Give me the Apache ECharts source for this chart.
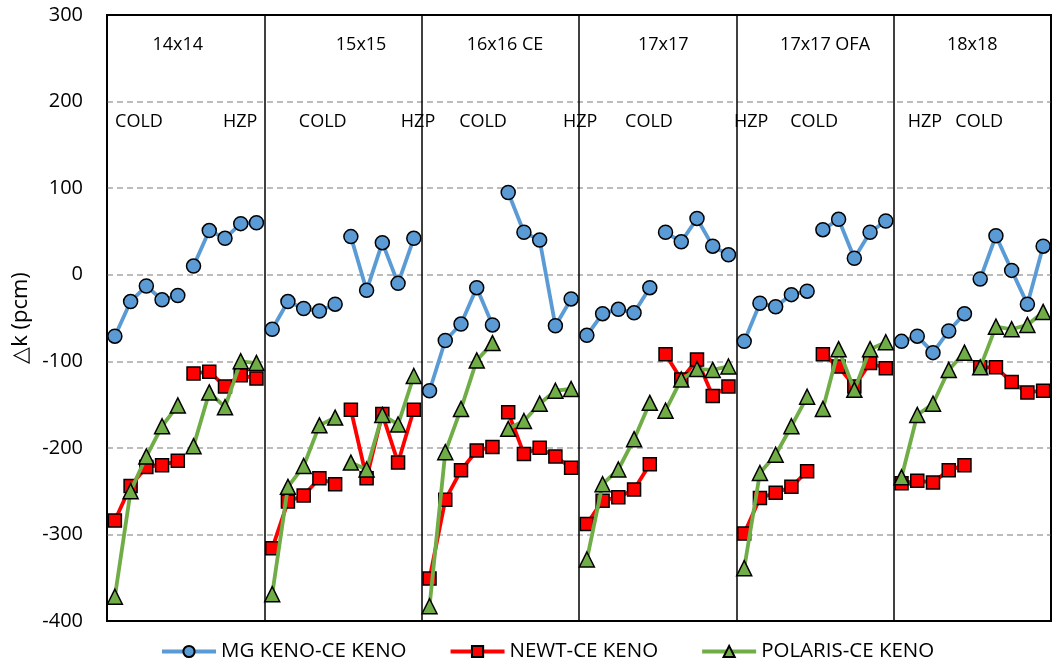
<!DOCTYPE html>
<html>
<head>
<meta charset="utf-8">
<script src="https://cdn.jsdelivr.net/npm/echarts@6/dist/echarts.min.js"></script>
<style>
html,body{margin:0;padding:0;background:#fff;}
#chart{width:1061px;height:662px;}
</style>
</head>
<body>
<div id="chart"></div>
<script>
// Panels (assemblies), each with 5 COLD points then 5 HZP points
const panels = ['14x14', '15x15', '16x16 CE', '17x17', '17x17 OFA', '18x18'];
const seriesNames = ['MG KENO-CE KENO', 'NEWT-CE KENO', 'POLARIS-CE KENO'];

const mgKeno = [
  -71, -31, -13, -29, -24,   10, 51, 42, 59, 60,
  -63, -31, -39, -42, -34,   44, -18, 37, -10, 42,
  -134, -76, -57, -15, -58,  95, 49, 40, -59, -28,
  -70, -45, -40, -44, -15,   49, 38, 65, 33, 23,
  -77, -33, -37, -23, -19,   52, 64, 19, 49, 62,
  -77, -71, -90, -65, -45,   -5, 45, 5, -34, 33
];
const newt = [
  -284, -244, -222, -220, -215,  -114, -112, -129, -116, -120,
  -316, -262, -255, -235, -242,  -156, -235, -161, -217, -156,
  -351, -260, -226, -203, -199,  -159, -207, -200, -210, -223,
  -288, -261, -257, -248, -219,  -92, -121, -98, -140, -129,
  -299, -258, -252, -245, -227,  -92, -106, -129, -102, -108,
  -241, -238, -240, -226, -220,  -107, -107, -124, -136, -134
];
const polaris = [
  -372, -250, -210, -175, -151,  -198, -136, -153, -100, -102,
  -369, -245, -221, -174, -165,  -217, -225, -162, -173, -117,
  -383, -205, -155, -99, -79,    -178, -169, -149, -134, -132,
  -329, -242, -225, -190, -148,  -157, -121, -109, -110, -106,
  -339, -229, -208, -175, -141,  -155, -86, -133, -86, -78,
  -234, -162, -149, -110, -90,   -107, -60, -63, -58, -43
];
const yTicks = [-400, -300, -200, -100, 0, 100, 200, 300];

// Annotation text and their positions in data units (x: point slot, y: value)
const panelTitleX = [4.5, 16.15, 25.3, 35.35, 45.64, 55.0];
const stateLabels = ['COLD','HZP','COLD','HZP','COLD','HZP','COLD','HZP','COLD','HZP','COLD'];
const stateLabelX = [2.03, 8.46, 13.71, 19.77, 23.9, 30.07, 34.45, 40.94, 44.94, 51.99, 55.44];
const titleY = 265.5;
const stateY = 177;

const GROUP = 5;
const FONT = '"Open Sans", "Noto Sans", sans-serif';

const styles = [
  {color: '#5B9BD5', symbol: 'circle', size: 14},
  {color: '#FF0000', symbol: 'rect', size: 13},
  {color: '#70AD47', symbol: 'triangle', size: 15}
];
const allData = [mgKeno, newt, polaris];

const series = [];
allData.forEach((arr, si) => {
  for (let g = 0; g < arr.length / GROUP; g++) {
    const pts = [];
    for (let k = 0; k < GROUP; k++) {
      const i = g * GROUP + k;
      pts.push([i + 0.5, arr[i]]);
    }
    series.push({
      type: 'line',
      name: seriesNames[si],
      data: pts,
      symbol: styles[si].symbol,
      symbolSize: styles[si].size,
      showAllSymbol: true,
      lineStyle: {color: styles[si].color, width: 3.8},
      itemStyle: {color: styles[si].color, borderColor: '#000', borderWidth: 1.5},
      emphasis: {disabled: true},
      animation: false,
      z: 3 + si
    });
  }
});

const chart = echarts.init(document.getElementById('chart'), null, {renderer: 'canvas'});
chart.setOption({
  backgroundColor: '#fff',
  animation: false,
  grid: {left: 107, right: 10, top: 15, bottom: 41, show: true,
         borderColor: '#000', borderWidth: 2, backgroundColor: 'transparent'},
  xAxis: {
    type: 'value', min: 0, max: panels.length * 10, interval: 10,
    axisLine: {show: false}, axisTick: {show: false}, axisLabel: {show: false},
    splitLine: {show: true, lineStyle: {color: '#000', width: 1.5, type: 'solid'}}
  },
  yAxis: {
    type: 'value', min: yTicks[0], max: yTicks[yTicks.length - 1], interval: 100,
    name: '\u25B3k (pcm)', nameLocation: 'middle', nameGap: 56, nameRotate: 90,
    nameTextStyle: {fontSize: 22, fontFamily: FONT, color: '#000'},
    axisLine: {show: false}, axisTick: {show: false},
    axisLabel: {fontSize: 20, fontFamily: FONT, color: '#000', margin: 24},
    splitLine: {show: true, showMinLine: false, showMaxLine: false,
                lineStyle: {color: '#A6A6A6', width: 1.5, type: [6, 4]}}
  },
  legend: {
    data: seriesNames, left: 155, top: 636, itemWidth: 54, itemHeight: 14, itemGap: 42,
    lineStyle: {width: 4},
    textStyle: {fontSize: 20.5, fontFamily: FONT, color: '#000'},
    selectedMode: false
  },
  series: series
});

// Text annotations placed through the chart's own coordinate conversion
const texts = [];
panels.forEach((p, i) => texts.push({t: p, x: panelTitleX[i], y: titleY}));
stateLabels.forEach((s, i) => texts.push({t: s, x: stateLabelX[i], y: stateY}));
chart.setOption({
  graphic: texts.map(o => {
    const px = chart.convertToPixel({gridIndex: 0}, [o.x, o.y]);
    return {
      type: 'text', x: px[0], y: px[1], z: 100, silent: true,
      style: {text: o.t, fill: '#000', font: '18px ' + FONT, align: 'center', verticalAlign: 'middle'}
    };
  })
});
</script>
</body>
</html>
